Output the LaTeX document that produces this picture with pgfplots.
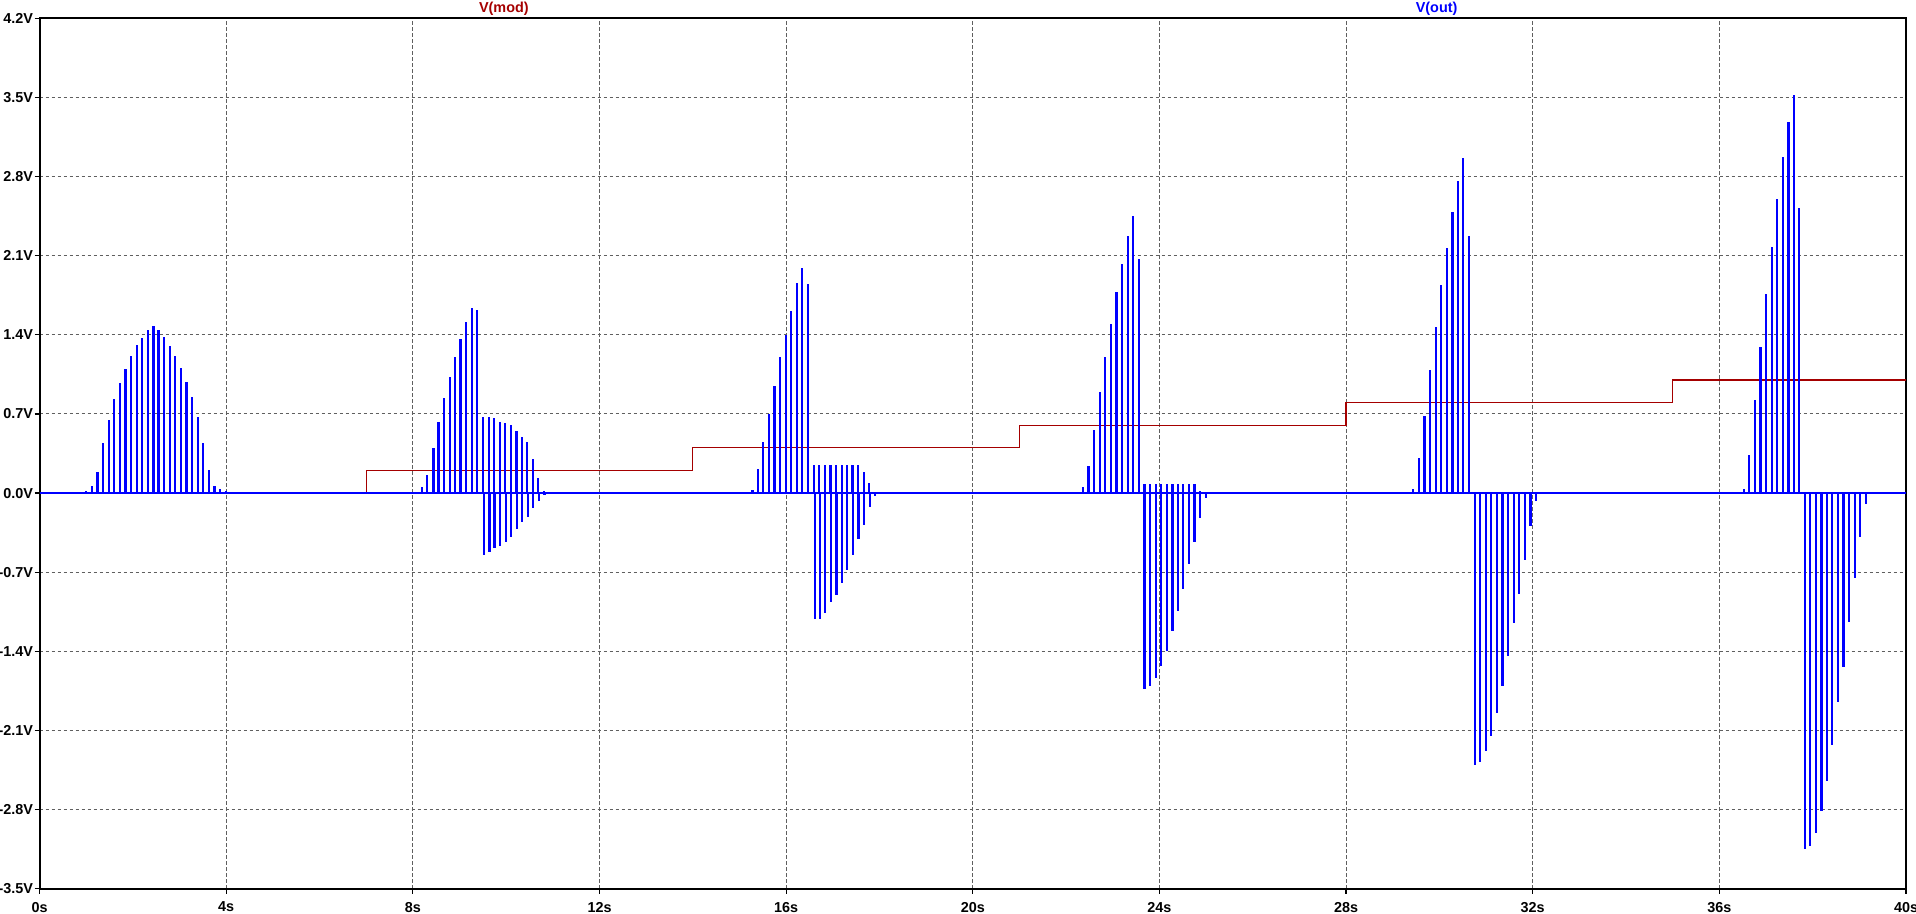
\documentclass[border=0pt]{standalone}
\usepackage{fontspec}
\setmainfont{Liberation Sans}
\usepackage{pgfplots}
\pgfplotsset{compat=1.18}
\definecolor{ltred}{RGB}{165,0,0}
\definecolor{ltblue}{RGB}{0,0,255}
\definecolor{gridgray}{RGB}{95,95,95}
\begin{document}
\begin{tikzpicture}
\begin{axis}[
  at={(0,0)}, anchor=south west,
  scale only axis, width=933.2pt, height=435.2pt,
  xmin=0, xmax=40, ymin=-3.5, ymax=4.2,
  xtick={0,4,8,12,16,20,24,28,32,36,40},
  xticklabels={0s,4s,8s,12s,16s,20s,24s,28s,32s,36s,40s},
  ytick={-3.5,-2.8,-2.1,-1.4,-0.7,0,0.7,1.4,2.1,2.8,3.5,4.2},
  yticklabels={-3.5V,-2.8V,-2.1V,-1.4V,-0.7V,0.0V,0.7V,1.4V,2.1V,2.8V,3.5V,4.2V},
  tick pos=left, tick align=outside, major tick length=2.5pt,
  tick style={black, line width=0.6pt},
  axis line style={black, line width=1pt},
  grid=major,
  major grid style={gridgray, line width=0.5pt, dash pattern=on 1.6pt off 1.4pt},
  tick label style={font=\bfseries\fontsize{7.2}{8}\selectfont},
  yticklabel style={inner xsep=0.6pt},
  xticklabel style={yshift=-0.6pt},
  clip=false,
]
% V(mod)
\addplot[ltred, line width=0.6pt, const plot] coordinates {
  (0,0) (7,0.2) (14,0.4) (21,0.6) (28,0.8) (35,1.0) (40,1.0)};
% V(out) baseline
\addplot[ltblue, line width=0.8pt] coordinates {(0,0) (40,0)};
% burst 1
\addplot[ltblue, line width=1.1pt, ycomb] coordinates {
 (0.89,0.01)(1.00,0.02)(1.12,0.06)(1.24,0.19)(1.36,0.44)(1.48,0.65)(1.60,0.83)(1.72,0.97)
 (1.84,1.10)(1.96,1.21)(2.08,1.31)(2.20,1.37)(2.32,1.44)(2.44,1.48)(2.55,1.44)(2.67,1.38)
 (2.79,1.30)(2.91,1.21)(3.03,1.11)(3.15,0.98)(3.27,0.85)(3.39,0.67)(3.51,0.44)(3.63,0.20)
 (3.75,0.06)(3.87,0.04)(3.99,0.02)(4.23,0.01)};
% burst 2
\addplot[ltblue, line width=1.1pt, ycomb] coordinates {
 (8.08,0.01)(8.20,0.05)(8.31,0.16)(8.44,0.40)(8.55,0.63)(8.67,0.84)(8.79,1.03)(8.91,1.20)
 (9.02,1.36)(9.14,1.51)(9.26,1.64)(9.38,1.62)
 (9.51,0.67)(9.63,0.67)(9.74,0.66)(9.86,0.63)(9.98,0.62)(10.10,0.60)(10.22,0.55)(10.33,0.50)
 (10.45,0.45)(10.57,0.30)(10.69,0.13)(10.81,0.02)
 (9.52,-0.545)(9.64,-0.52)(9.75,-0.49)(9.87,-0.47)(9.99,-0.43)(10.11,-0.39)(10.23,-0.32)
 (10.34,-0.26)(10.46,-0.21)(10.58,-0.13)(10.70,-0.07)(10.82,-0.02)};
% burst 3
\addplot[ltblue, line width=1.1pt, ycomb] coordinates {
 (15.17,0.01)(15.28,0.03)(15.39,0.21)(15.51,0.45)(15.64,0.70)(15.75,0.95)(15.87,1.20)
 (15.99,1.40)(16.11,1.61)(16.23,1.86)(16.34,1.99)(16.47,1.85)
 (16.60,0.25)(16.71,0.25)(16.83,0.25)(16.95,0.25)(17.07,0.25)(17.19,0.25)(17.30,0.25)
 (17.42,0.25)(17.54,0.25)(17.66,0.19)(17.78,0.09)(17.90,0.01)
 (16.61,-1.11)(16.72,-1.11)(16.84,-1.06)(16.96,-0.96)(17.08,-0.90)(17.20,-0.80)(17.31,-0.68)
 (17.43,-0.55)(17.55,-0.41)(17.67,-0.28)(17.79,-0.12)(17.91,-0.03)};
% burst 4
\addplot[ltblue, line width=1.1pt, ycomb] coordinates {
 (22.24,0.01)(22.36,0.05)(22.48,0.24)(22.60,0.56)(22.72,0.89)(22.84,1.20)(22.96,1.50)
 (23.08,1.78)(23.20,2.03)(23.32,2.27)(23.44,2.45)(23.56,2.07)
 (23.68,0.08)(23.80,0.08)(23.92,0.08)(24.04,0.08)(24.16,0.08)(24.28,0.08)(24.40,0.08)
 (24.51,0.08)(24.63,0.08)(24.75,0.08)(24.87,0.02)
 (23.68,-1.73)(23.80,-1.71)(23.92,-1.64)(24.04,-1.53)(24.16,-1.40)(24.28,-1.22)(24.40,-1.04)
 (24.51,-0.85)(24.63,-0.63)(24.75,-0.43)(24.87,-0.22)(24.99,-0.04)};
% burst 5
\addplot[ltblue, line width=1.1pt, ycomb] coordinates {
 (29.31,0.01)(29.43,0.04)(29.56,0.31)(29.68,0.68)(29.80,1.09)(29.92,1.47)(30.04,1.84)
 (30.16,2.17)(30.28,2.49)(30.40,2.76)(30.51,2.96)(30.63,2.27)
 (30.76,-2.41)(30.87,-2.38)(30.99,-2.28)(31.11,-2.15)(31.23,-1.95)(31.35,-1.71)(31.47,-1.44)
 (31.59,-1.15)(31.71,-0.89)(31.83,-0.59)(31.95,-0.29)(32.07,-0.07)};
% burst 6
\addplot[ltblue, line width=1.1pt, ycomb] coordinates {
 (36.41,0.01)(36.53,0.04)(36.64,0.34)(36.76,0.82)(36.88,1.29)(37.00,1.76)(37.12,2.18)
 (37.24,2.60)(37.36,2.97)(37.48,3.28)(37.60,3.52)(37.71,2.52)
 (37.83,-3.15)(37.95,-3.12)(38.07,-3.01)(38.19,-2.81)(38.31,-2.55)(38.42,-2.23)(38.54,-1.85)
 (38.66,-1.54)(38.78,-1.14)(38.90,-0.75)(39.02,-0.39)(39.14,-0.10)};
\node[ltred, anchor=base, font=\bfseries\fontsize{7.2}{8}\selectfont, yshift=2.7pt]
  at (axis cs:9.95,4.2) {V(mod)};
\node[ltblue, anchor=base, font=\bfseries\fontsize{7.2}{8}\selectfont, yshift=2.7pt]
  at (axis cs:29.94,4.2) {V(out)};
\end{axis}
\pgfresetboundingbox
\path[use as bounding box] (-19.8pt,-12.65pt) rectangle (938.2pt,444.35pt);
\end{tikzpicture}
\end{document}
